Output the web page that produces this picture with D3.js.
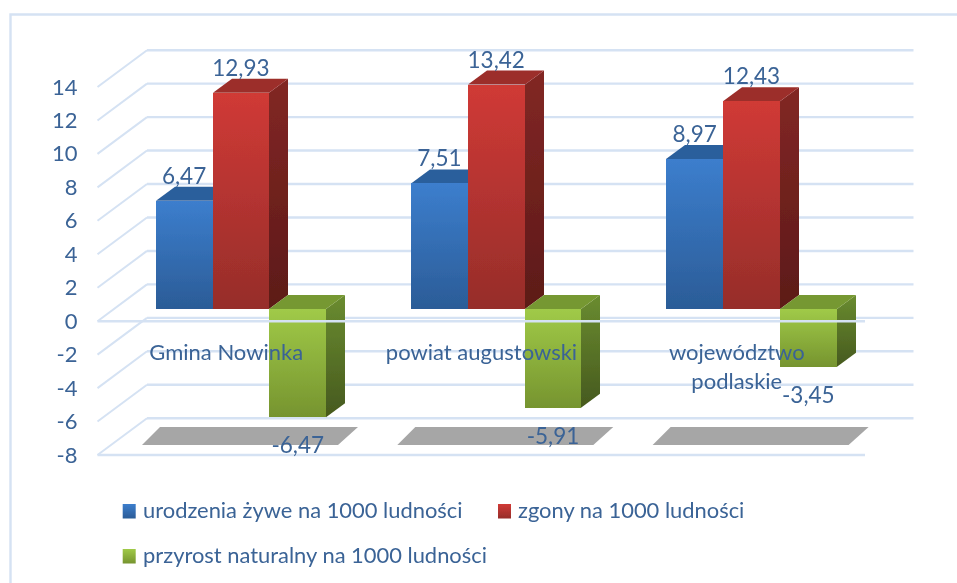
<!DOCTYPE html>
<html><head><meta charset="utf-8">
<script src="https://cdn.jsdelivr.net/npm/d3@7"></script>
<style>html,body{margin:0;background:#fff}svg{display:block}text{font-family:Lato,sans-serif;fill:#3a6396}</style>
</head><body><svg id="c" width="957" height="583"></svg>
<script>
const categories=[["Gmina Nowinka"],["powiat augustowski"],["województwo","podlaskie"]];
const seriesNames=["urodzenia żywe na 1000 ludności","zgony na 1000 ludności","przyrost naturalny na 1000 ludności"];
const births=[6.47,7.51,8.97];
const deaths=[12.93,13.42,12.43];
const growth=[-6.47,-5.91,-3.45];
const tickValues=[14,12,10,8,6,4,2,0,-2,-4,-6,-8];
const palettes=[
 {f:["#3c7ecd","#2b5c97"],t:"#2b5f9c",s:["#2b5f9c","#1f4470"]},
 {f:["#d03a36","#962d2a"],t:"#9c2d2a",s:["#822724","#5c1a18"]},
 {f:["#a0ca48","#76942f"],t:"#769830",s:["#6a8c30","#46591e"]}];
const fmt=v=>String(v.toFixed(2)).replace(".",",");
const svg=d3.select("#c");
const defs=svg.append("defs");
const grad=(id,[a,b])=>{const g=defs.append("linearGradient").attr("id",id).attr("x1",0).attr("y1",0).attr("x2",0).attr("y2",1);
 g.append("stop").attr("offset",0).attr("stop-color",a);g.append("stop").attr("offset",1).attr("stop-color",b);return `url(#${id})`;};
defs.append("filter").attr("id","soft").attr("filterUnits","userSpaceOnUse").attr("x",0).attr("y",0).attr("width",957).attr("height",583)
 .append("feGaussianBlur").attr("stdDeviation",0.5);
const root=svg.append("g").attr("filter","url(#soft)");
const dx=49.5,dy=-36.8;
const barDx=19,barDy=-14;
const yFront=d3.scaleLinear().domain([14,-8]).range([87,455]);
const yBack=v=>yFront(v)+dy;
const yBar=d3.scaleLinear().domain([0,14]).range([309,309-14*16.72]);
const grid="#d5e2f3";
root.append("path").attr("d","M10.5,583V14.5H957").attr("fill","none").attr("stroke",grid).attr("stroke-width",2.4);
const x0=97.5,xR=865,xB=913.5;
root.append("g").selectAll("line").data(tickValues).join("line")
 .attr("x1",x0+dx).attr("x2",xB).attr("y1",yBack).attr("y2",yBack).attr("stroke",grid).attr("stroke-width",2.4);
root.append("g").selectAll("line").data(tickValues).join("line")
 .attr("x1",x0).attr("x2",x0+dx).attr("y1",d=>yFront(d)).attr("y2",yBack).attr("stroke",grid).attr("stroke-width",2);
root.append("line").attr("x1",x0).attr("x2",xR).attr("y1",yFront(-8)).attr("y2",yFront(-8)).attr("stroke",grid).attr("stroke-width",2.4);
const ax=root.append("g").attr("transform",`translate(${x0-2},0)`).call(d3.axisLeft(yFront).tickValues(tickValues).tickSize(0).tickPadding(18).tickFormat(String));
ax.select(".domain").remove();
ax.selectAll("text").style("font-size","22px").style("font-family","Lato,sans-serif").attr("fill","#3a6396");
const xGroup=d3.scaleBand().domain(d3.range(3)).range([155.7,155.7+3*255.3]);
const barW=56.8;
const series=[births,deaths,growth];
root.append("g").selectAll("path").data(d3.range(3)).join("path").attr("fill","#a6a6a6")
 .attr("d",i=>{const o=xGroup(i)-xGroup(0);return `M${142+o},445L${160+o},427H${358+o}L${338+o},445Z`;});
d3.range(3).forEach(gi=>{
 series.forEach((vals,si)=>{
  const v=vals[gi],p=palettes[si],x=Math.round(xGroup(gi)+si*barW),w=Math.round(xGroup(gi)+(si+1)*barW)-x;
  const y1=yBar(Math.max(v,0)),y2=yBar(Math.min(v,0));
  const g=root.append("g");
  const fid=grad(`f${gi}${si}`,p.f),sid=grad(`s${gi}${si}`,p.s);
  g.append("path").attr("fill",sid).attr("d",`M${x+w},${y1}l${barDx},${barDy}V${y2+barDy}l${-barDx},${-barDy}Z`);
  g.append("path").attr("fill",p.t).attr("d",`M${x},${y1}l${barDx},${barDy}h${w}l${-barDx},${-barDy}Z`);
  g.append("rect").attr("x",x).attr("y",y1).attr("width",w).attr("height",y2-y1).attr("fill",fid).attr("shape-rendering","crispEdges");
 });
});
root.append("line").attr("x1",x0).attr("x2",xR).attr("y1",yFront(0)).attr("y2",yFront(0)).attr("stroke",grid).attr("stroke-width",2.4);
categories.forEach((lines,i)=>{
 const cx=xGroup(i)+70.5;
 lines.forEach((l,k)=>root.append("text").attr("x",cx).attr("y",360+k*29).attr("text-anchor","middle").style("font-size","22px").text(l));
});
series.forEach((vals,si)=>vals.forEach((v,gi)=>{
 const x=xGroup(gi)+si*barW+barW/2;
 const y=v>=0?yBar(v)-17:yBar(v)+36;
 root.append("text").attr("x",x).attr("y",y).attr("text-anchor","middle").style("font-size","22.5px").text(fmt(v));
}));
const legend=[[122.7,504,143,0],[498,504,518,1],[122.7,549,143,2]];
legend.forEach(([sx,sy,tx,i])=>{
 root.append("rect").attr("x",sx).attr("y",sy).attr("width",13).attr("height",14.5).attr("fill",grad(`l${i}`,palettes[i].f));
 root.append("text").attr("x",tx).attr("y",sy+14).style("font-size","21.9px").text(seriesNames[i]);
});
</script></body></html>
